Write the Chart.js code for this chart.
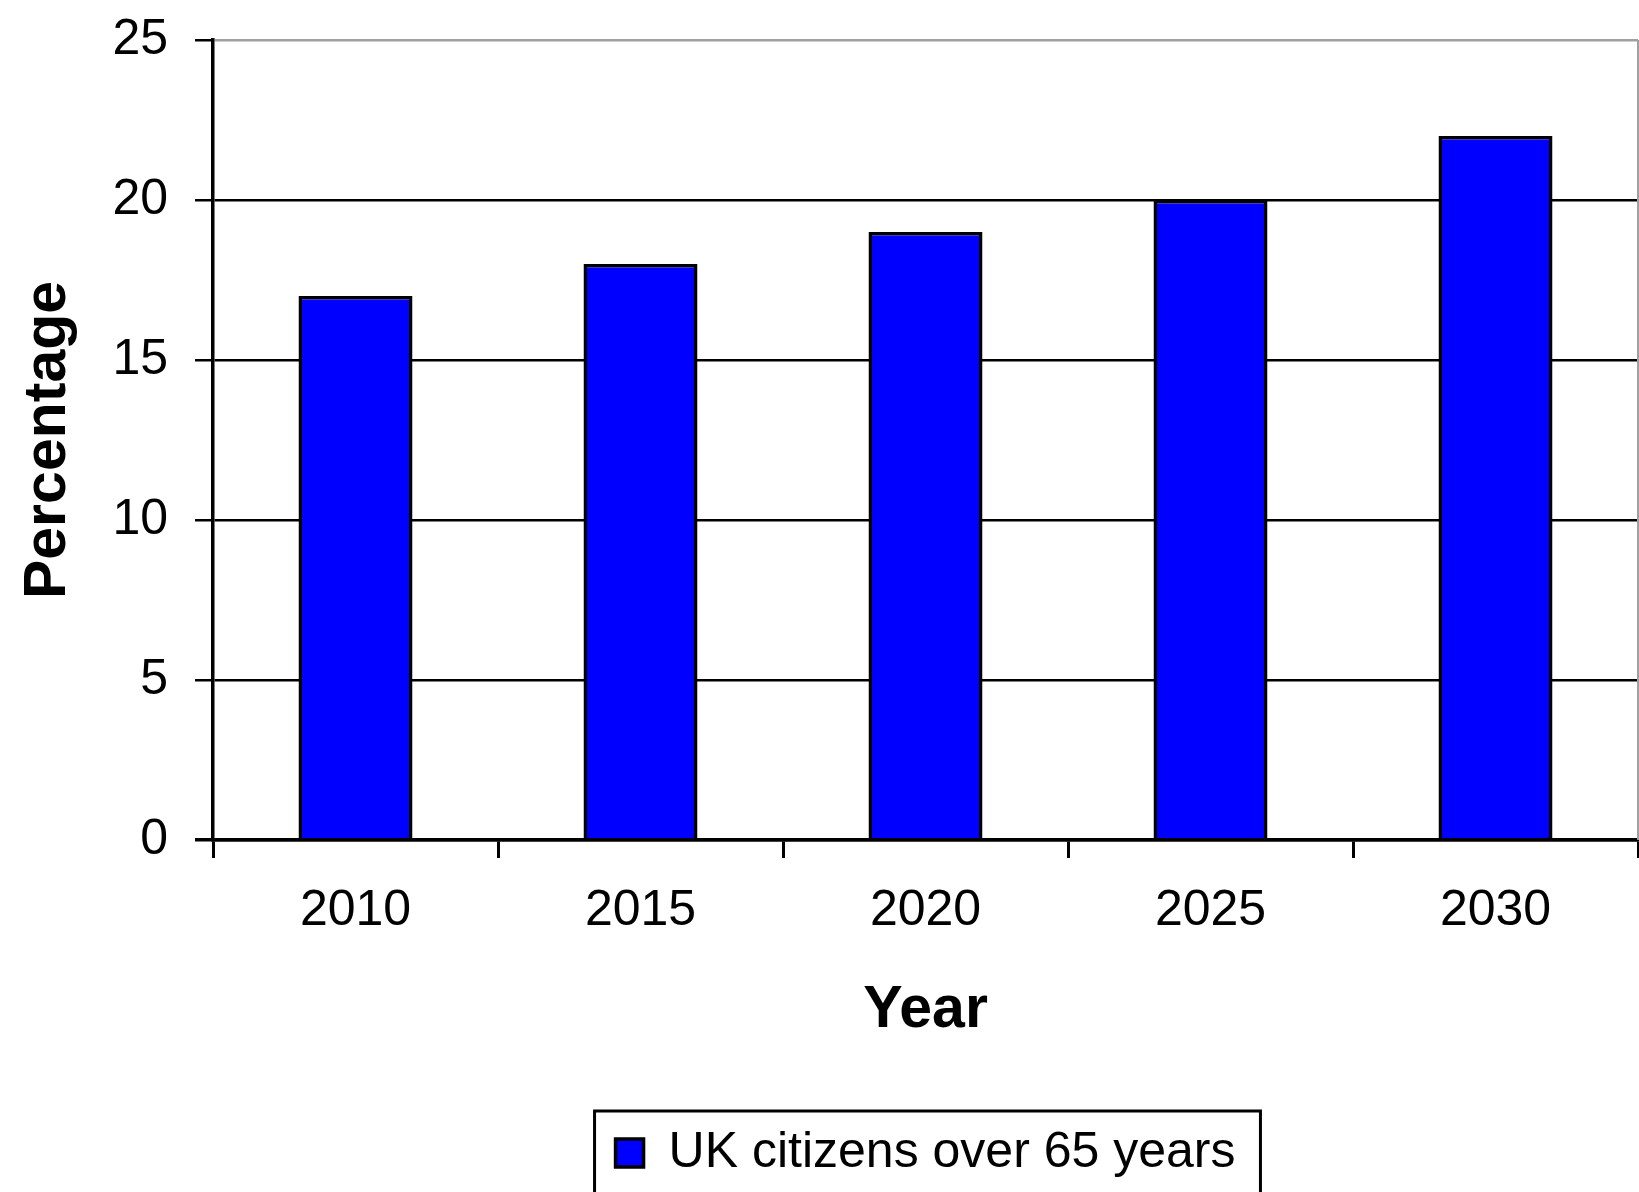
<!DOCTYPE html>
<html>
<head>
<meta charset="utf-8">
<script src="https://cdn.jsdelivr.net/npm/chart.js@4.4.0/dist/chart.umd.min.js"></script>
<style>
  html, body { margin: 0; padding: 0; background: #fff; }
</style>
</head>
<body>
<canvas id="uk65Chart" width="1639" height="1192"></canvas>
<script>
const years = ['2010', '2015', '2020', '2025', '2030'];
const percentOver65 = [17, 18, 19, 20, 22];
const yTicks = [0, 5, 10, 15, 20, 25];
const seriesName = 'UK citizens over 65 years';

const fontFamily = "'Liberation Sans', Arial, sans-serif";

// frame round the legend and the right edge of the plot
const frames = {
    id: 'frames',
    afterDraw(chart) {
        const ctx = chart.ctx;
        const a = chart.chartArea;
        ctx.save();
        ctx.strokeStyle = '#a0a0a0';
        ctx.lineWidth = 2;
        ctx.beginPath();
        ctx.moveTo(a.right, a.top);
        ctx.lineTo(a.right, a.bottom);
        ctx.stroke();

        const lg = chart.legend;
        if (lg && lg.legendHitBoxes && lg.legendHitBoxes.length) {
            const hb = lg.legendHitBoxes[0];
            const cy = hb.top + hb.height / 2;
            ctx.strokeStyle = '#000';
            ctx.lineWidth = 3;
            ctx.strokeRect(hb.left - 21, cy - 42, hb.width + 46, 130);
        }
        ctx.restore();
    }
};

new Chart(document.getElementById('uk65Chart'), {
    type: 'bar',
    data: {
        labels: years,
        datasets: [{
            label: seriesName,
            data: percentOver65,
            backgroundColor: '#0000ff',
            borderColor: '#000',
            borderWidth: 3.5,
            barPercentage: 0.4,
            categoryPercentage: 1
        }]
    },
    options: {
        responsive: false,
        animation: false,
        layout: { padding: { top: 40, right: 1, bottom: 4, left: 0 } },
        plugins: {
            tooltip: { enabled: false },
            legend: {
                position: 'bottom',
                fullSize: false,
                labels: {
                    boxWidth: 28,
                    boxHeight: 28,
                    padding: 10,
                    color: '#000',
                    font: { family: fontFamily, size: 50 }
                }
            }
        },
        scales: {
            x: {
                grid: {
                    display: true,
                    drawOnChartArea: false,
                    drawTicks: true,
                    tickLength: 18,
                    color: '#000',
                    lineWidth: 3,
                    offset: true
                },
                border: { display: true, color: '#000', width: 3.5 },
                ticks: { padding: 23, color: '#000', font: { family: fontFamily, size: 50 } },
                title: {
                    display: true,
                    text: 'Year',
                    color: '#000',
                    font: { family: fontFamily, size: 59, weight: 'bold' },
                    padding: { top: 32, bottom: 72 }
                },
                afterFit(scale) { scale.height = 278; }
            },
            y: {
                min: 0,
                max: 25,
                afterBuildTicks(scale) { scale.ticks = yTicks.map(v => ({ value: v })); },
                grid: {
                    color: ctx => ctx.tick && ctx.tick.value === 25 ? '#a0a0a0' : '#000',
                    lineWidth: ctx => ctx.tick && ctx.tick.value === 0 ? 3.5 : 2.5,
                    tickColor: '#000',
                    tickLength: 18
                },
                border: { display: true, color: '#000', width: 3.5 },
                ticks: { padding: 27, color: '#000', font: { family: fontFamily, size: 50 } },
                title: {
                    display: true,
                    text: 'Percentage',
                    color: '#000',
                    font: { family: fontFamily, size: 59, weight: 'bold' },
                    padding: { top: 13, bottom: 26 }
                },
                afterFit(scale) {
                    scale.width = 213;
                    scale.paddingTop = 0;
                    scale.paddingBottom = 0;
                }
            }
        }
    },
    plugins: [frames]
});
</script>
</body>
</html>
